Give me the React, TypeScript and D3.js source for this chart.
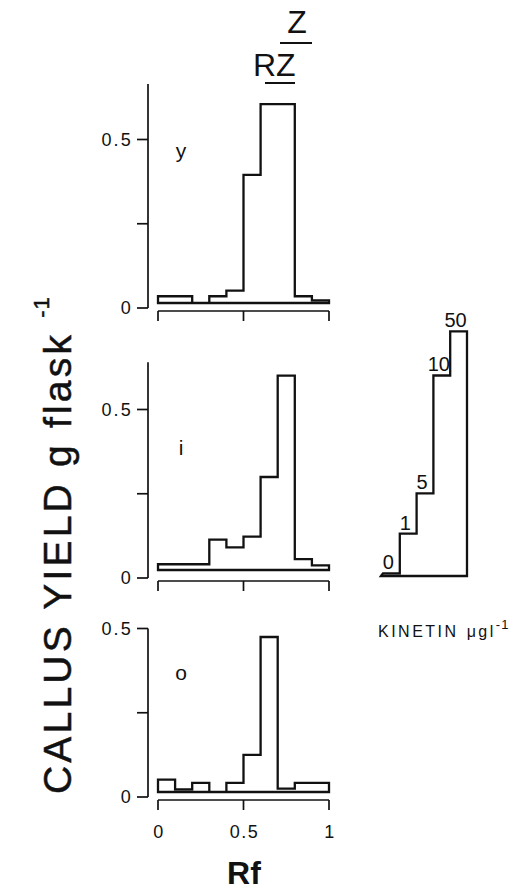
import React from "react";
import * as d3 from "d3";

// callus yield (g/flask) per Rf bin of width 0.1, one array per panel
const rfBins = d3.range(10).map((i) => i / 10);
const youngYield = [0.02, 0.02, 0, 0.02, 0.037, 0.38, 0.59, 0.59, 0.02, 0.008];
const interYield = [0.017, 0.017, 0.017, 0.09, 0.067, 0.099, 0.276, 0.577, 0.032, 0.014];
const oldYield = [0.037, 0.008, 0.027, 0, 0.027, 0.11, 0.46, 0.01, 0.027, 0.027];
const panelLabels = ["y", "i", "o"];
const yTicks = [0, 0.25, 0.5];
const yTickLabels = ["0", "", "0.5"];
const xTicks = [0, 0.5, 1];
const xTickLabels = ["0", "0.5", "1"];

// kinetin dose response (same yield axis as the middle panel)
const kinetinDoses = ["0", "1", "5", "10", "50"];
const kinetinYield = [0.008, 0.126, 0.245, 0.595, 0.726];

const W = 519;
const H = 890;
const font = "'Liberation Sans', Arial, Helvetica, sans-serif";
const ink = "#111";

const x = d3.scaleLinear().domain([0, 1]).range([158, 329]);

// layout of the three stacked panels
const panels = [
  { data: youngYield, zero: 308, axisMax: 0.665, lift: 5, label: panelLabels[0], labelY: 158 },
  { data: interYield, zero: 578, axisMax: 0.64, lift: 8, label: panelLabels[1], labelY: 455 },
  { data: oldYield, zero: 797, axisMax: 0.5, lift: 5, label: panelLabels[2], labelY: 680 },
];

const line = d3.line();

function histPath(values: number[], y: d3.ScaleLinear<number, number>, lift: number) {
  const pts: [number, number][] = [[x(0), y(0) - lift]];
  values.forEach((v, i) => {
    pts.push([x(rfBins[i]), y(v) - lift]);
    pts.push([x(rfBins[i] + 0.1), y(v) - lift]);
  });
  pts.push([x(1), y(0) - lift]);
  return line(pts) + "Z";
}

function Panel({ p, showXLabels }: { p: (typeof panels)[0]; showXLabels: boolean }) {
  const y = d3.scaleLinear().domain([0, 0.5]).range([p.zero, p.zero - 168.5]);
  const axisX = 148;
  const xAxisY = p.zero + 3;
  return (
    <g>
      <line x1={axisX} x2={axisX} y1={y(p.axisMax)} y2={y(0)} stroke={ink} strokeWidth={1.7} />
      {yTicks.map((t, i) => (
        <g key={t}>
          <line x1={axisX - 11} x2={axisX} y1={y(t)} y2={y(t)} stroke={ink} strokeWidth={1.7} />
          <text
            x={axisX - 15}
            y={y(t)}
            dy="0.36em"
            textAnchor="end"
            fontSize={18}
            letterSpacing={2.2}
            fontFamily={font}
            fill={ink}
          >
            {yTickLabels[i]}
          </text>
        </g>
      ))}
      <path d={histPath(p.data, y, p.lift)} fill="none" stroke={ink} strokeWidth={2.3} />
      <line x1={x(0)} x2={x(1)} y1={xAxisY} y2={xAxisY} stroke={ink} strokeWidth={1.7} />
      {xTicks.map((t, i) => (
        <g key={t}>
          <line x1={x(t)} x2={x(t)} y1={xAxisY} y2={xAxisY + 10} stroke={ink} strokeWidth={1.7} />
          {showXLabels && (
            <text
              x={x(t) + 1}
              y={xAxisY + 38}
              textAnchor="middle"
              fontSize={18}
              letterSpacing={1.5}
              fontFamily={font}
              fill={ink}
            >
              {xTickLabels[i]}
            </text>
          )}
        </g>
      ))}
      <text x={181} y={p.labelY} textAnchor="middle" fontSize={21} fontFamily={font} fill={ink}>
        {p.label}
      </text>
    </g>
  );
}

function Kinetin() {
  const y = d3.scaleLinear().domain([0, 0.5]).range([578, 578 - 168.5]);
  const kx = d3.scaleBand().domain(kinetinDoses).range([383, 467]).paddingInner(0);
  const lift = 2;
  const pts: [number, number][] = [[kx("0")! - 2, y(0) - lift]];
  kinetinDoses.forEach((d, i) => {
    pts.push([kx(d)!, y(kinetinYield[i]) - lift]);
    pts.push([kx(d)! + kx.bandwidth(), y(kinetinYield[i]) - lift]);
  });
  pts.push([kx("50")! + kx.bandwidth(), y(0) - lift]);
  return (
    <g>
      <path d={line(pts) + "Z"} fill="none" stroke={ink} strokeWidth={2.3} />
      {kinetinDoses.map((d, i) => (
        <text
          key={d}
          x={kx(d)! + kx.bandwidth() / 2 - 3}
          y={y(kinetinYield[i]) - lift - 4}
          textAnchor="middle"
          fontSize={20}
          fontFamily={font}
          fill={ink}
        >
          {d}
        </text>
      ))}
      <text x={378} y={637} fontSize={16} letterSpacing={2.5} fontFamily={font} fill={ink}>
        KINETIN
        <tspan dx={8}>μgl</tspan>
        <tspan dy={-8} fontSize={13} letterSpacing={1}>-1</tspan>
      </text>
    </g>
  );
}

export default function App() {
  return (
    <svg
      width={W}
      height={H}
      viewBox={`0 0 ${W} ${H}`}
      style={{ position: "absolute", left: 0, top: 0, background: "#fff" }}
    >
      {/* title: R Z over Z */}
      <g fontFamily={font} fontSize={32} fill={ink}>
        <text x={297} y={33} textAnchor="middle">Z</text>
        <line x1={280} x2={312} y1={43} y2={43} stroke={ink} strokeWidth={2} />
        <text x={253} y={76}>RZ</text>
        <line x1={265} x2={295} y1={83} y2={83} stroke={ink} strokeWidth={2} />
      </g>

      {panels.map((p, i) => (
        <Panel key={p.label} p={p} showXLabels={i === panels.length - 1} />
      ))}

      <Kinetin />

      <text x={244} y={884} textAnchor="middle" fontSize={32} fontWeight="bold" fontFamily={font} fill={ink}>
        Rf
      </text>

      <text
        transform="translate(71,794) rotate(-90)"
        fontSize={39}
        letterSpacing={3.2}
        fontFamily={font}
        fill={ink}
        stroke={ink}
        strokeWidth={0.5}
      >
        CALLUS YIELD g flask
        <tspan dy={-22} dx={14} fontSize={22} letterSpacing={1}>-1</tspan>
      </text>
    </svg>
  );
}
